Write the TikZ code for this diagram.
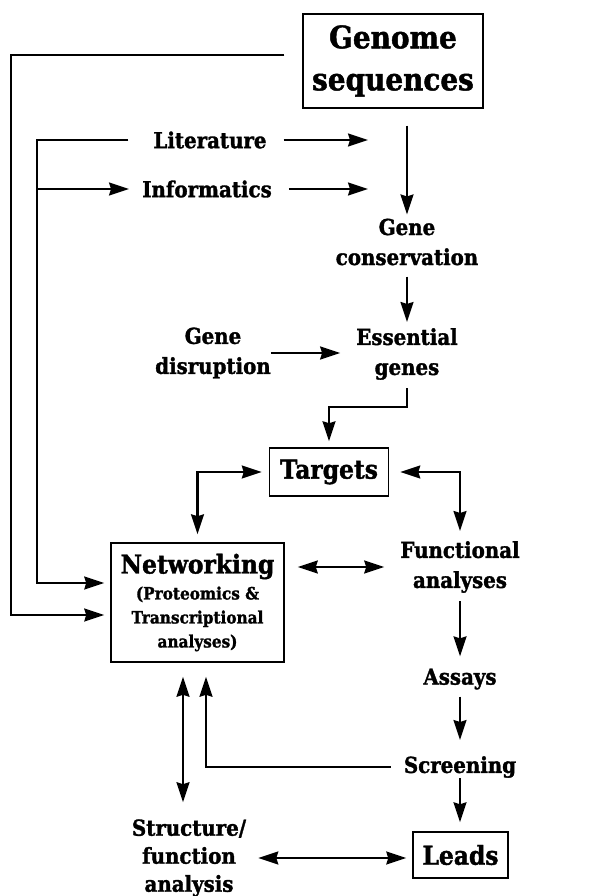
\documentclass[tikz,border=0pt]{standalone}
\usepackage{fontspec}
\setmainfont{DejaVu Serif}[FakeStretch=0.9, BoldFeatures={FakeBold=1.5}]
\usetikzlibrary{arrows.meta}
\usetikzlibrary{calc}

\begin{document}
\begin{tikzpicture}[x=1pt, y=-1pt, >={Stealth[length=20pt,width=13pt,inset=2pt]},
  lbl/.style={inner sep=0pt, align=center, font=\bfseries\fontsize{22}{30}\selectfont},
  box/.style={draw, line width=1.5pt, align=center, inner sep=0pt},
  link/.style={line width=2.1pt},
  arr/.style={link, ->},
  dbl/.style={link, <->}]

\useasboundingbox (0,0) rectangle (594,896);

% boxes
\node[box, minimum width=180pt, minimum height=94pt,
  font=\bfseries\fontsize{31}{42}\selectfont] (genome) at (393,61) {Genome\\sequences};
\node[box, minimum width=119pt, minimum height=48pt,
  font=\bfseries\fontsize{26}{28}\selectfont] (targets) at (329,472) {Targets};
\node[box, minimum width=173pt, minimum height=119pt,
  font=\bfseries\fontsize{17}{24}\selectfont] (net) at (197.5,602.5)
  {{\fontsize{26}{28}\selectfont Networking}\\[2pt](Proteomics \&\\Transcriptional\\analyses)};
\node[box, minimum width=95pt, minimum height=46pt,
  font=\bfseries\fontsize{26}{28}\selectfont] (leads) at (460.5,855) {Leads};

% plain labels
\node[lbl] (lit) at (210,140) {Literature};
\node[lbl] (inf) at (207,189) {Informatics};
\node[lbl] (cons) at (407,242) {Gene\\conservation};
\node[lbl] (disr) at (213,353) {Gene\\disruption};
\node[lbl] (ess) at (407,354) {Essential\\genes};
\node[lbl] (func) at (460,567) {Functional\\analyses};
\node[lbl] (assays) at (460,679) {Assays};
\node[lbl] (screen) at (460,767) {Screening};
\node[lbl, font=\bfseries\fontsize{22}{28}\selectfont] (struct) at (189,858) {Structure/\\function\\analysis};

% corners of the long feedback lines
\coordinate (farL) at (11,55);
\coordinate (midL) at (37,140);
\coordinate (netL) at ($(net.south)+(-14.5,0)$);
\coordinate (netR) at ($(net.south)+(8.5,0)$);
\coordinate (litEnd) at ($(lit -| cons)+(-39,0)$);
\coordinate (infEnd) at ($(inf -| cons)+(-39,0)$);

% main line down the right side
\draw[arr, shorten <=17pt, shorten >=4pt] (genome.south -| cons.north) -- (cons.north);
\draw[arr, shorten <=17pt] (lit.east) -- (litEnd);
\draw[arr, shorten <=17pt] (inf.east) -- (infEnd);
\draw[arr, shorten <=11pt, shorten >=6pt] (cons.south) -- (ess.north);
\draw[arr, shorten >=16pt] (disr.east) -- (disr.east -| ess.west);
\draw[arr, shorten <=8pt, shorten >=6pt] (ess.south) -- ++(0,27) -| (targets.north);
\draw[dbl, shorten <=7pt, shorten >=8pt] (targets.west) -| (net.north);
\draw[dbl, shorten <=11pt, shorten >=10pt] (targets.east) -| (func.north);
\draw[dbl, shorten <=13pt, shorten >=16pt] (net.east |- func) -- (func.west);
\draw[arr, shorten <=8pt, shorten >=12pt] (func.south) -- (assays.north);
\draw[arr, shorten <=7pt, shorten >=16pt] (assays.south) -- (screen.north);
\draw[arr, shorten >=9pt] (screen.south) -- (screen.south |- leads.north);
\draw[dbl, shorten <=12pt, shorten >=6pt] (struct.east) -- (struct.east -| leads.west);

% feedback into networking
\draw[arr, shorten <=13pt, shorten >=14pt] (screen.west) -| (netR);
\draw[dbl, shorten <=14pt, shorten >=17pt] (netL) -- (netL |- struct.north);
\draw[arr, shorten >=6pt] ($(genome.west)+(-18,-6)$) -- (farL) |- ($(net.west)+(0,12.5)$);
\draw[arr, shorten >=6pt] ($(lit.west)+(-25,0)$) -- (midL) |- ($(net.west)+(0,-19.5)$);
\draw[arr, shorten >=13pt] (midL |- inf) -- (inf.west);

\end{tikzpicture}
\end{document}
